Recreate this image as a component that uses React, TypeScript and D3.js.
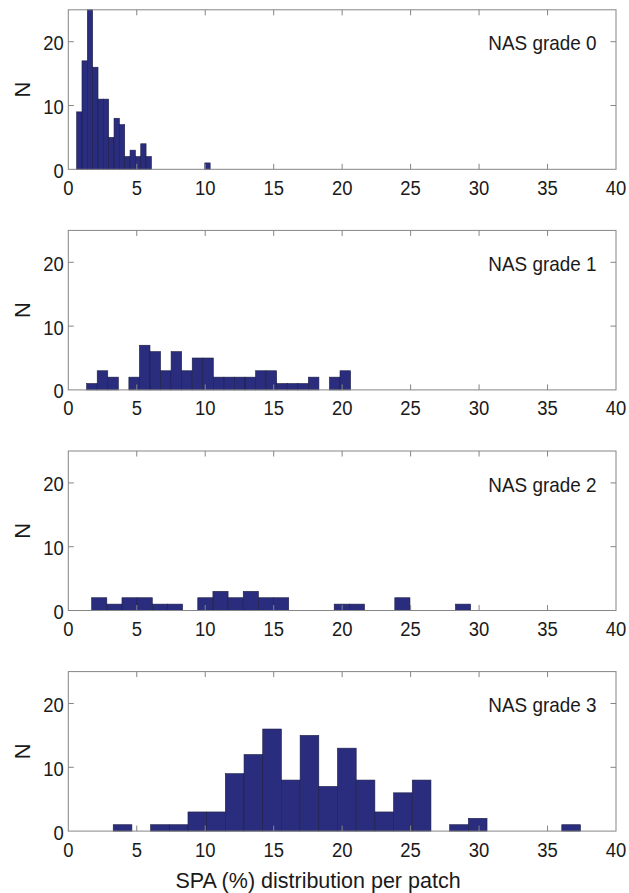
import { useEffect, useRef } from 'react'
import * as d3 from 'd3'

// histogram bins: first bin edge, bin width (in SPA %), and counts per bin (25 bins each)
const gradeLabels = ['NAS grade 0', 'NAS grade 1', 'NAS grade 2', 'NAS grade 3']
const binStarts = [0.61, 1.34, 1.706, 3.28]
const binWidths = [0.39, 0.771, 1.107, 1.365]
const grade0Counts = [9, 17, 25, 16, 11, 11, 5, 8, 7, 2, 3, 2, 4, 2, 0, 0, 0, 0, 0, 0, 0, 0, 0, 0, 1]
const grade1Counts = [1, 3, 2, 0, 2, 7, 6, 3, 6, 3, 5, 5, 2, 2, 2, 2, 3, 3, 1, 1, 1, 2, 0, 2, 3]
const grade2Counts = [2, 1, 2, 2, 1, 1, 0, 2, 3, 2, 3, 2, 2, 0, 0, 0, 1, 1, 0, 0, 2, 0, 0, 0, 1]
const grade3Counts = [1, 0, 1, 1, 3, 3, 9, 12, 16, 8, 15, 7, 13, 8, 3, 6, 8, 0, 1, 2, 0, 0, 0, 0, 1]
const xTicks = [0, 5, 10, 15, 20, 25, 30, 35, 40]
const yTicks = [0, 10, 20]

const W = 629
const H = 893
const FONT = '"Liberation Sans", Arial, Helvetica, sans-serif'
const BAR = '#2a2d7d'
const FRAME = '#858585'
const INK = '#1a1a1a'

export default function App() {
  const svgRef = useRef<SVGSVGElement>(null)

  useEffect(() => {
    if (!svgRef.current) return
    const svg = d3.select(svgRef.current)
    svg.selectAll('*').remove()

    const left = 68.3
    const right = 616
    const plotH = 159.5
    const step = 220.6
    const top0 = 9.8
    const tickLen = 5.5

    // the original's glyphs are a bit narrower than Liberation Sans
    const label = (g: any, px: number, py: number, txt: string | number, size: number, sx: number, anchor: string) =>
      g.append('text')
        .attr('transform', `translate(${px},${py}) scale(${sx},1)`)
        .attr('text-anchor', anchor)
        .attr('font-family', FONT)
        .attr('font-size', size)
        .attr('fill', INK)
        .text(txt)

    const x = d3.scaleLinear().domain([0, 40]).range([left, right])
    const allCounts = [grade0Counts, grade1Counts, grade2Counts, grade3Counts]

    allCounts.forEach((counts, i) => {
      const top = top0 + i * step
      const y = d3.scaleLinear().domain([0, 25]).range([top + plotH, top])
      const g = svg.append('g')

      const bins = counts.map((c, k) => ({
        x0: binStarts[i] + k * binWidths[i],
        x1: binStarts[i] + (k + 1) * binWidths[i],
        c
      })).filter(b => b.c > 0)

      g.selectAll('rect.bar')
        .data(bins)
        .join('rect')
        .attr('class', 'bar')
        .attr('x', d => x(d.x0))
        .attr('width', d => x(d.x1) - x(d.x0))
        .attr('y', d => y(Math.min(d.c, 25)))
        .attr('height', d => y(0) - y(Math.min(d.c, 25)))
        .attr('fill', BAR)
        .attr('stroke', '#1c1d45')
        .attr('stroke-width', 0.6)

      // frame
      g.append('rect')
        .attr('x', left).attr('y', top)
        .attr('width', right - left).attr('height', plotH)
        .attr('fill', 'none')
        .attr('stroke', FRAME)
        .attr('stroke-width', 1)

      // ticks, inside, on all four sides
      xTicks.slice(1, -1).forEach(t => {
        g.append('line')
          .attr('x1', x(t)).attr('x2', x(t))
          .attr('y1', top + plotH).attr('y2', top + plotH - tickLen)
          .attr('stroke', FRAME)
        g.append('line')
          .attr('x1', x(t)).attr('x2', x(t))
          .attr('y1', top).attr('y2', top + tickLen)
          .attr('stroke', FRAME)
      })
      yTicks.slice(1).forEach(t => {
        g.append('line')
          .attr('x1', left).attr('x2', left + tickLen)
          .attr('y1', y(t)).attr('y2', y(t))
          .attr('stroke', FRAME)
        g.append('line')
          .attr('x1', right).attr('x2', right - tickLen)
          .attr('y1', y(t)).attr('y2', y(t))
          .attr('stroke', FRAME)
      })

      xTicks.forEach(t => label(g, x(t), top + plotH + 25.5, t, 20.5, 0.9, 'middle'))
      yTicks.forEach(t => label(g, left - 4.5, y(t) + 8.5, t, 20.5, 0.9, 'end'))

      g.append('text')
        .attr('transform', `translate(30,${top + plotH / 2}) rotate(-90)`)
        .attr('text-anchor', 'middle')
        .attr('font-family', FONT)
        .attr('font-size', 22)
        .attr('fill', INK)
        .text('N')

      label(g, 596.5, top + 40.5, gradeLabels[i], 21, 0.9, 'end')
    })

    label(svg, 318, 888, 'SPA (%) distribution per patch', 21.5, 1, 'middle')
  }, [])

  return (
    <svg
      ref={svgRef}
      width={W}
      height={H}
      style={{ position: 'absolute', left: 0, top: 0, background: '#fff' }}
    />
  )
}
